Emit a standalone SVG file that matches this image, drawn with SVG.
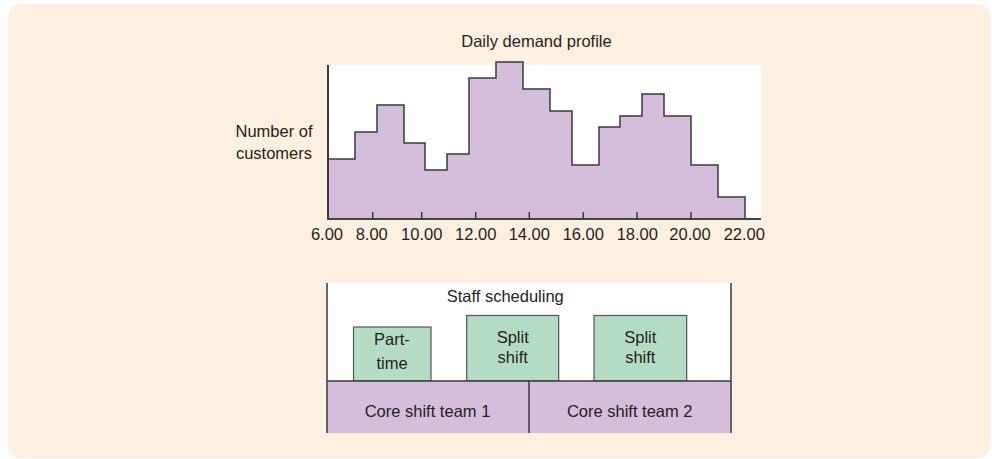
<svg xmlns="http://www.w3.org/2000/svg" width="992" height="459" viewBox="0 0 992 459">
<style>
text{font-family:"Liberation Sans",Arial,sans-serif;font-size:16.5px;fill:#231f20}
.c{text-anchor:middle}
.ln{stroke:#3a3a3a;stroke-width:1.5;fill:none}
.pur{fill:#d4bedb}
.grn{fill:#b4dcc4;stroke:#555;stroke-width:1.2}
</style>
<rect x="8" y="4" width="983" height="454" rx="14" fill="#fdf0e1"/>
<g id="demand-chart">
<rect x="328" y="65" width="433" height="154" fill="#ffffff"/>
<path class="pur" d="M328,219 V159 H355 V132 H377 V105 H404 V143 H425 V170 H447 V154 H469 V78 H496 V62 H523 V89 H550 V111 H572 V165 H599 V127 H620 V116 H642 V94 H664 V116 H691 V165 H718 V197 H745 V219 Z"/>
<path class="ln" d="M328,159 H355 V132 H377 V105 H404 V143 H425 V170 H447 V154 H469 V78 H496 V62 H523 V89 H550 V111 H572 V165 H599 V127 H620 V116 H642 V94 H664 V116 H691 V165 H718 V197 H745 V219"/>
<line x1="328" y1="65" x2="328" y2="220" stroke="#3a3a3a" stroke-width="2"/>
<line x1="327" y1="219" x2="761" y2="219" stroke="#444" stroke-width="2"/>
<path class="ln" d="M372.7,212 V219 M421.7,212 V219 M475.7,212 V219 M529.3,212 V219 M583.3,212 V219 M637,212 V219 M691,212 V219"/>
<text class="c" x="536.5" y="47">Daily demand profile</text>
<text class="c" x="274" y="137">Number of</text>
<text class="c" x="274" y="159">customers</text>
<text class="c" x="327" y="240">6.00</text>
<text class="c" x="371.7" y="240">8.00</text>
<text class="c" x="421.7" y="240">10.00</text>
<text class="c" x="475.7" y="240">12.00</text>
<text class="c" x="529.3" y="240">14.00</text>
<text class="c" x="583.3" y="240">16.00</text>
<text class="c" x="637.3" y="240">18.00</text>
<text class="c" x="690" y="240">20.00</text>
<text class="c" x="744.3" y="240">22.00</text>
</g>
<g id="staff-scheduling">
<rect x="327" y="283" width="404" height="150" fill="#ffffff"/>
<text x="446.7" y="302">Staff scheduling</text>
</g>
<g id="part-time">
<rect class="grn" x="353.5" y="327" width="77.5" height="54"/>
<text class="c" x="392" y="345">Part-</text>
<text class="c" x="392" y="368.5">time</text>
</g>
<g id="split-shift-1">
<rect class="grn" x="466.7" y="315.5" width="92" height="65.5"/>
<text class="c" x="512.7" y="343">Split</text>
<text class="c" x="512.7" y="363">shift</text>
</g>
<g id="split-shift-2">
<rect class="grn" x="594" y="315.5" width="92.7" height="65.5"/>
<text class="c" x="640.3" y="343">Split</text>
<text class="c" x="640.3" y="363">shift</text>
</g>
<g id="core-team-1">
<rect class="pur" x="327" y="381" width="202" height="52"/>
<text class="c" x="427.5" y="416.5">Core shift team 1</text>
</g>
<g id="core-team-2">
<rect class="pur" x="529" y="381" width="202" height="52"/>
<text class="c" x="629.7" y="416.5">Core shift team 2</text>
</g>
<g id="frame-lines">
<path class="ln" d="M327,283 V433 M731,283 V433 M327,381 H731 M529,381 V433"/>
</g>
</svg>
